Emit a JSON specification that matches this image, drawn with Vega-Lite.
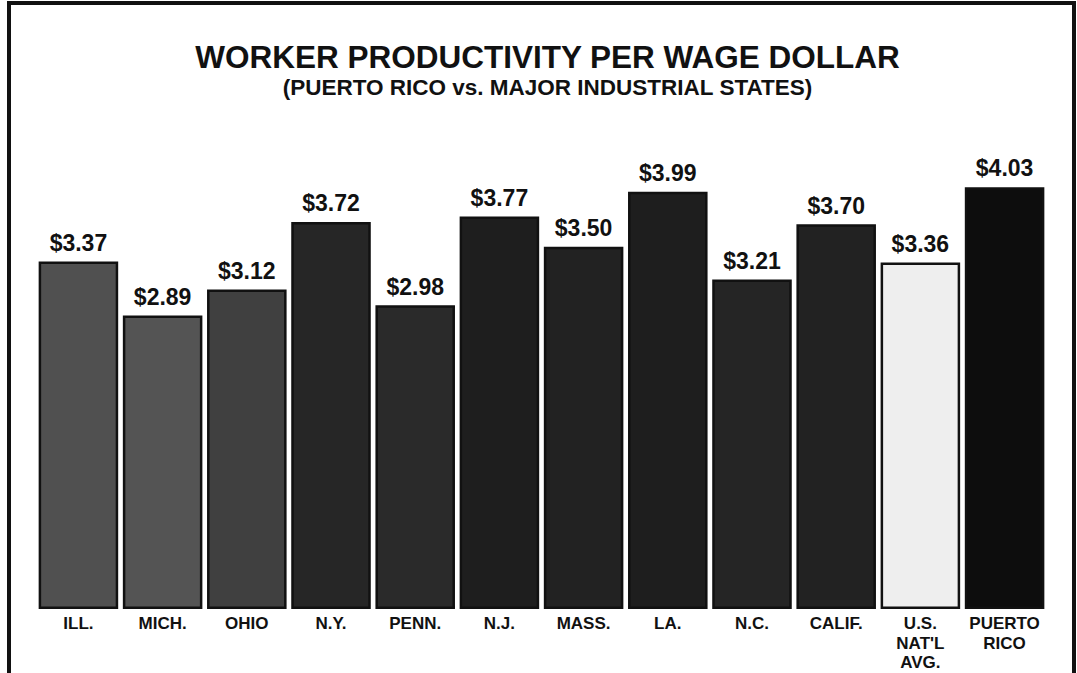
{
  "$schema": "https://vega.github.io/schema/vega-lite/v6.json",
  "width": 1065,
  "height": 697,
  "autosize": {"type": "none"},
  "padding": {"left": 9, "top": 3, "right": 3, "bottom": 0},
  "background": "white",
  "title": {
    "text": "WORKER PRODUCTIVITY PER WAGE DOLLAR",
    "subtitle": "(PUERTO RICO vs. MAJOR INDUSTRIAL STATES)",
    "anchor": "middle",
    "offset": -96,
    "dx": 6,
    "font": "Liberation Sans",
    "fontSize": 31.5,
    "fontWeight": "bold",
    "color": "#111111",
    "subtitleFont": "Liberation Sans",
    "subtitleFontSize": 22.5,
    "subtitleFontWeight": "bold",
    "subtitleColor": "#111111",
    "subtitlePadding": 2
  },
  "config": {"view": {"stroke": "#111111", "strokeWidth": 4}},
  "data": {
    "values": [
      {"state": "ILL.", "value": 3.37},
      {"state": "MICH.", "value": 2.89},
      {"state": "OHIO", "value": 3.12},
      {"state": "N.Y.", "value": 3.72},
      {"state": "PENN.", "value": 2.98},
      {"state": "N.J.", "value": 3.77},
      {"state": "MASS.", "value": 3.50},
      {"state": "LA.", "value": 3.99},
      {"state": "N.C.", "value": 3.21},
      {"state": "CALIF.", "value": 3.70},
      {"state": "U.S.\nNAT'L\nAVG.", "value": 3.36},
      {"state": "PUERTO\nRICO", "value": 4.03}
    ]
  },
  "encoding": {
    "x": {
      "field": "state",
      "type": "nominal",
      "sort": null,
      "axis": null,
      "scale": {"paddingInner": 0.085, "paddingOuter": 0.367}
    }
  },
  "layer": [
    {
      "mark": {"type": "bar", "stroke": "#111111", "strokeWidth": 2.5},
      "encoding": {
        "y": {
          "field": "value",
          "type": "quantitative",
          "scale": {"domain": [-0.52, 5.68], "zero": false, "nice": false},
          "axis": null
        },
        "y2": {"datum": 0.3},
        "color": {
          "field": "state",
          "type": "nominal",
          "legend": null,
          "scale": {
            "domain": ["ILL.", "MICH.", "OHIO", "N.Y.", "PENN.", "N.J.", "MASS.", "LA.", "N.C.", "CALIF.", "U.S.\nNAT'L\nAVG.", "PUERTO\nRICO"],
            "range": ["#505050", "#545454", "#404040", "#262626", "#2a2a2a", "#1e1e1e", "#222222", "#1e1e1e", "#252525", "#222222", "#eeeeee", "#0d0d0d"]
          }
        }
      }
    },
    {
      "mark": {"type": "text", "baseline": "alphabetic", "dy": -12, "font": "Liberation Sans", "fontWeight": "bold", "fontSize": 23, "color": "#111111"},
      "encoding": {
        "y": {"field": "value", "type": "quantitative"},
        "text": {"field": "value", "type": "quantitative", "format": "$.2f"}
      }
    },
    {
      "mark": {"type": "text", "baseline": "top", "lineBreak": "\n", "lineHeight": 19.5, "font": "Liberation Sans", "fontWeight": "bold", "fontSize": 17, "color": "#111111"},
      "encoding": {
        "y": {"datum": 0.225, "type": "quantitative"},
        "text": {"field": "state", "type": "nominal"}
      }
    }
  ]
}
